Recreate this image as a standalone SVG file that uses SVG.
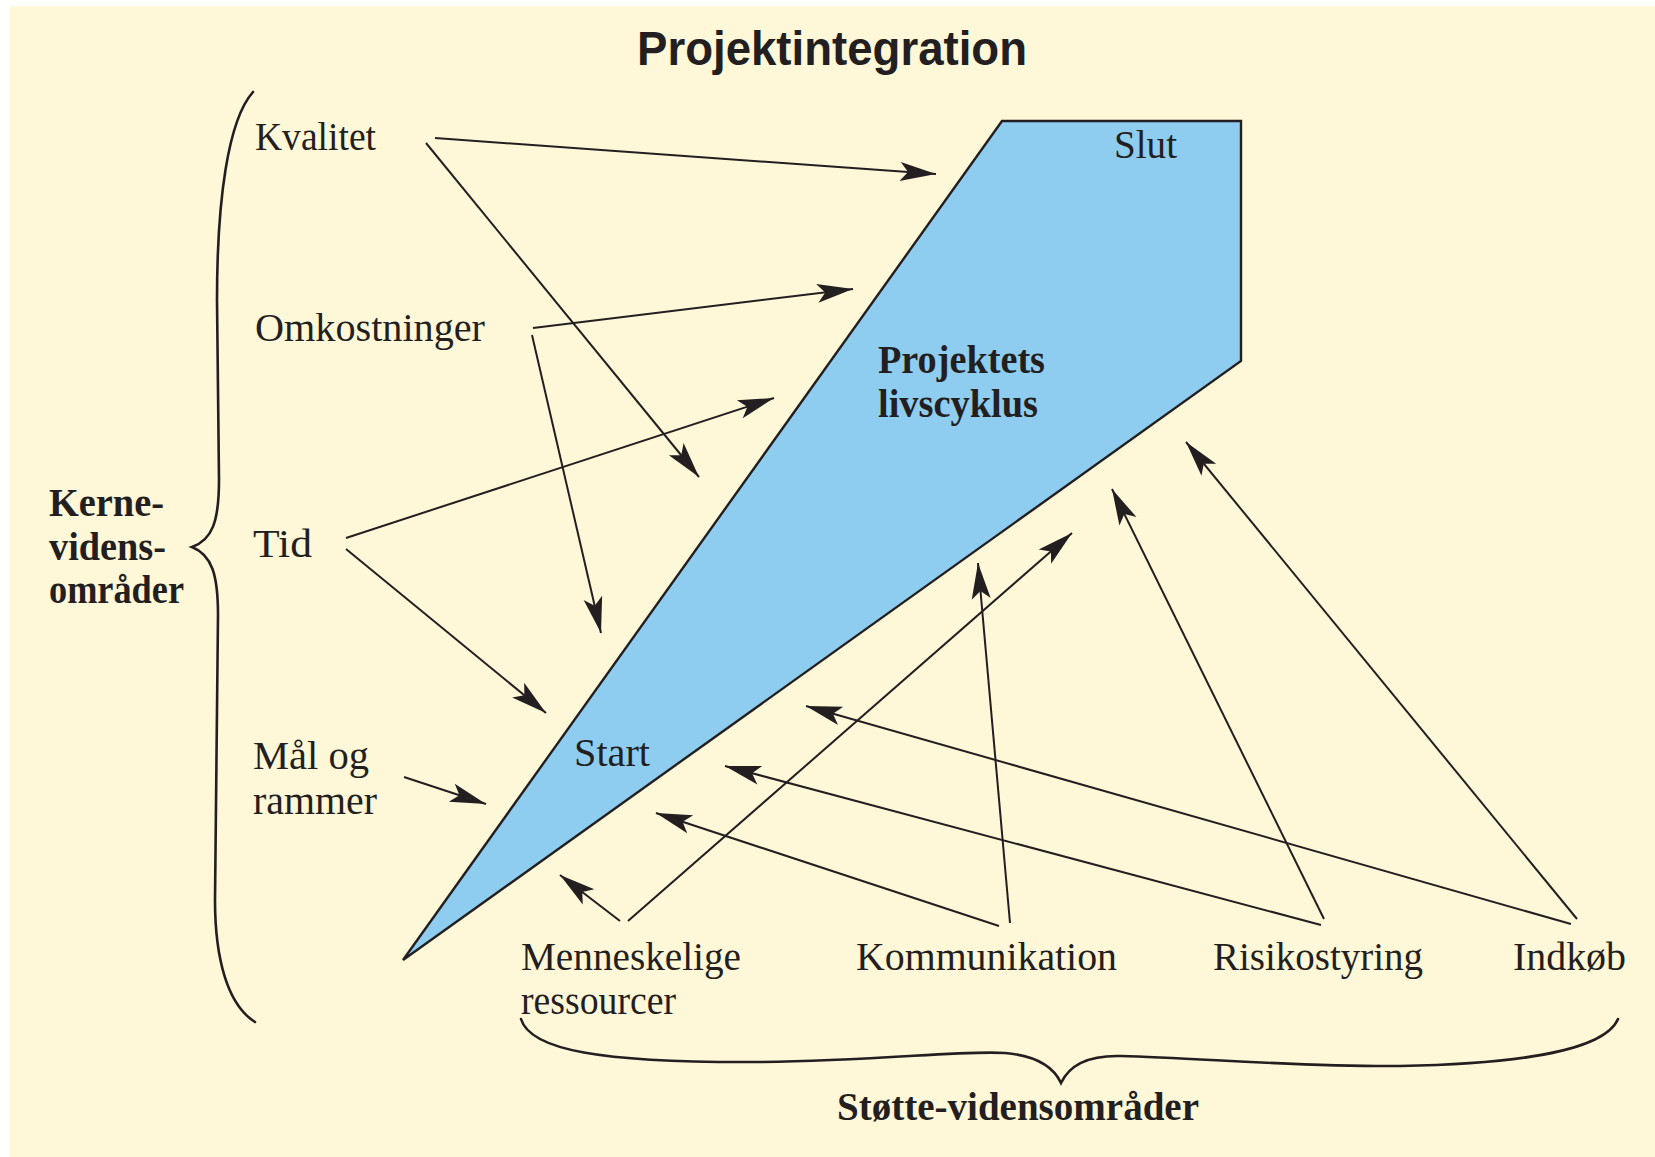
<svg xmlns="http://www.w3.org/2000/svg" width="1655" height="1157" viewBox="0 0 1655 1157">
  <defs>
    <style>
      .lbl { font-family: "Liberation Serif", "Times New Roman", serif; font-size: 40px; fill: #231f20; }
      .bold { font-family: "Liberation Serif", "Times New Roman", serif; font-size: 39px; font-weight: bold; fill: #231f20; }
      .title { font-family: "Liberation Sans", Arial, sans-serif; font-size: 48px; font-weight: bold; fill: #231f20; }
      .conn { stroke: #231f20; stroke-width: 2; fill: none; marker-end: url(#arrow); }
      .brace { stroke: #231f20; stroke-width: 2.6; fill: none; stroke-linecap: round; }
    </style>
    <marker id="arrow" markerUnits="userSpaceOnUse" markerWidth="40" markerHeight="22" viewBox="-38 -11 40 22" refX="0" refY="0" orient="auto">
      <path d="M0,0 L-36,-9.5 L-28,0 L-36,9.5 Z" fill="#231f20"/>
    </marker>
  </defs>

  <!-- page -->
  <rect x="0" y="0" width="1655" height="1157" fill="#ffffff"/>
  <rect x="10" y="6" width="1645" height="1151" fill="#fef7d8"/>

  <g id="title">
    <text class="title" x="832" y="65" text-anchor="middle" textLength="390" lengthAdjust="spacingAndGlyphs">Projektintegration</text>
  </g>

  <!-- project life cycle shape -->
  <g id="livscyklus">
    <polygon points="1002,121 1241,121 1241,361 403,960" fill="#8ecdf0" stroke="#231f20" stroke-width="2.4" stroke-linejoin="miter"/>
    <text class="lbl" x="1114" y="158" textLength="63" lengthAdjust="spacingAndGlyphs">Slut</text>
    <text class="bold" x="878" y="373" textLength="167" lengthAdjust="spacingAndGlyphs">Projektets</text>
    <text class="bold" x="878" y="417" textLength="160" lengthAdjust="spacingAndGlyphs">livscyklus</text>
    <text class="lbl" x="574" y="766" textLength="76" lengthAdjust="spacingAndGlyphs">Start</text>
  </g>

  <!-- core knowledge areas -->
  <g id="kvalitet">
    <text class="lbl" x="255" y="150" textLength="121" lengthAdjust="spacingAndGlyphs">Kvalitet</text>
  </g>
  <g id="omkostninger">
    <text class="lbl" x="255" y="341" textLength="230" lengthAdjust="spacingAndGlyphs">Omkostninger</text>
  </g>
  <g id="tid">
    <text class="lbl" x="253" y="557" textLength="59" lengthAdjust="spacingAndGlyphs">Tid</text>
  </g>
  <g id="maal-og-rammer">
    <text class="lbl" x="253" y="769" textLength="116" lengthAdjust="spacingAndGlyphs">Mål og</text>
    <text class="lbl" x="253" y="814" textLength="124" lengthAdjust="spacingAndGlyphs">rammer</text>
  </g>

  <!-- supporting knowledge areas -->
  <g id="menneskelige-ressourcer">
    <text class="lbl" x="521" y="970" textLength="220" lengthAdjust="spacingAndGlyphs">Menneskelige</text>
    <text class="lbl" x="521" y="1014" textLength="155" lengthAdjust="spacingAndGlyphs">ressourcer</text>
  </g>
  <g id="kommunikation">
    <text class="lbl" x="856" y="970" textLength="261" lengthAdjust="spacingAndGlyphs">Kommunikation</text>
  </g>
  <g id="risikostyring">
    <text class="lbl" x="1213" y="970" textLength="210" lengthAdjust="spacingAndGlyphs">Risikostyring</text>
  </g>
  <g id="indkoeb">
    <text class="lbl" x="1513" y="970" textLength="113" lengthAdjust="spacingAndGlyphs">Indkøb</text>
  </g>

  <!-- left brace with group label -->
  <g id="kerne-vidensomraader">
    <path class="brace" d="M253,92 C228,120 217,200 217,300 L219,480 C219,522 212,540 192,547 C212,555 218,575 218,615 L215,900 C215,960 228,1005 255,1022"/>
    <text class="bold" x="49" y="516" textLength="115" lengthAdjust="spacingAndGlyphs">Kerne-</text>
    <text class="bold" x="49" y="560" textLength="117" lengthAdjust="spacingAndGlyphs">videns-</text>
    <text class="bold" x="49" y="603" textLength="135" lengthAdjust="spacingAndGlyphs">områder</text>
  </g>

  <!-- bottom brace with group label -->
  <g id="stoette-vidensomraader">
    <path class="brace" d="M521,1019 C530,1050 600,1063 760,1062 C880,1061 960,1050 1005,1053 C1040,1056 1055,1070 1061,1083 C1068,1068 1085,1055 1121,1056 C1200,1058 1300,1067 1400,1066 C1520,1064 1605,1050 1618,1019"/>
    <text class="bold" x="837" y="1120" textLength="362" lengthAdjust="spacingAndGlyphs">Støtte-vidensområder</text>
  </g>

  <!-- arrows -->
  <g id="connectors">
    <line class="conn" x1="435" y1="138" x2="936" y2="174"/>
    <line class="conn" x1="426" y1="143" x2="699" y2="477"/>
    <line class="conn" x1="533" y1="328" x2="853" y2="289"/>
    <line class="conn" x1="532" y1="335" x2="601" y2="633"/>
    <line class="conn" x1="346" y1="538" x2="774" y2="398"/>
    <line class="conn" x1="346" y1="549" x2="546" y2="713"/>
    <line class="conn" x1="404" y1="777" x2="486" y2="804"/>
    <line class="conn" x1="620" y1="921" x2="560" y2="875"/>
    <line class="conn" x1="628" y1="921" x2="1072" y2="533"/>
    <line class="conn" x1="999" y1="926" x2="656" y2="813"/>
    <line class="conn" x1="1010" y1="923" x2="978" y2="563"/>
    <line class="conn" x1="1321" y1="925" x2="725" y2="766"/>
    <line class="conn" x1="1324" y1="919" x2="1112" y2="489"/>
    <line class="conn" x1="1571" y1="924" x2="806" y2="706"/>
    <line class="conn" x1="1577" y1="919" x2="1186" y2="442"/>
  </g>
</svg>
